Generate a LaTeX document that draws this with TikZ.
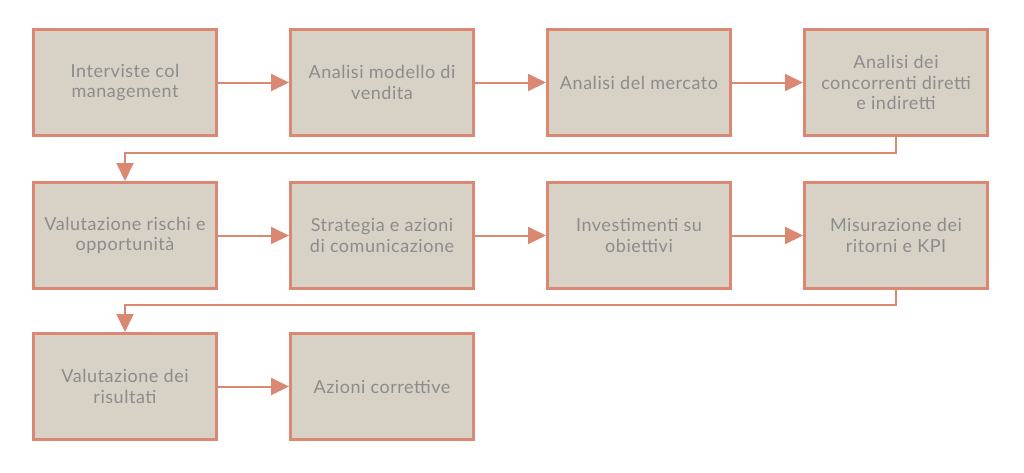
\documentclass[tikz,border=0pt]{standalone}
\usepackage{fontspec}
\setmainfont[LetterSpace=3]{Lato}
\usepackage{tikz}
\usetikzlibrary{positioning,arrows.meta}

\definecolor{boxfill}{HTML}{D8D1C5}
\definecolor{boxline}{HTML}{DA8872}
\definecolor{boxtext}{HTML}{8C8C8C}

\begin{document}
\begin{tikzpicture}[
    step box/.style={rectangle,draw=boxline,fill=boxfill,line width=3pt,
        minimum width=183pt,minimum height=106pt,align=center,
        text=boxtext,font=\fontsize{18pt}{20.5pt}\selectfont},
    link/.style={draw=boxline,line width=2pt,
        -{Triangle[length=18pt,width=17pt]}}]
        \useasboundingbox (0,0) rectangle (1024pt,-472pt);
        \node[step box] (a) at (125pt,-82.5pt) {Interviste col\\management};
        \node[step box] (b) [right=71pt of a] {Analisi modello di\\vendita};
        \node[step box] (c) [right=71pt of b] {Analisi del mercato};
        \node[step box] (d) [right=71pt of c] {Analisi dei\\concorrenti diretti\\e indiretti};
        \node[step box] (e) [below=44pt of a] {Valutazione rischi e\\opportunità};
        \node[step box] (f) [right=71pt of e] {Strategia e azioni\\di comunicazione};
        \node[step box] (g) [right=71pt of f] {Investimenti su\\obiettivi};
        \node[step box] (h) [right=71pt of g] {Misurazione dei\\ritorni e KPI};
        \node[step box] (i) [below=42pt of e] {Valutazione dei\\risultati};
        \node[step box] (j) [right=71pt of i] {Azioni correttive};

        \draw[link] (a) -- (b);
        \draw[link] (b) -- (c);
        \draw[link] (c) -- (d);
        \draw[link] (d.south) -- ++(0,-16pt) -| (e.north);
        \draw[link] (e) -- (f);
        \draw[link] (f) -- (g);
        \draw[link] (g) -- (h);
        \draw[link] (h.south) -- ++(0,-15pt) -| (i.north);
        \draw[link] (i) -- (j);
    \end{tikzpicture}
\end{document}
